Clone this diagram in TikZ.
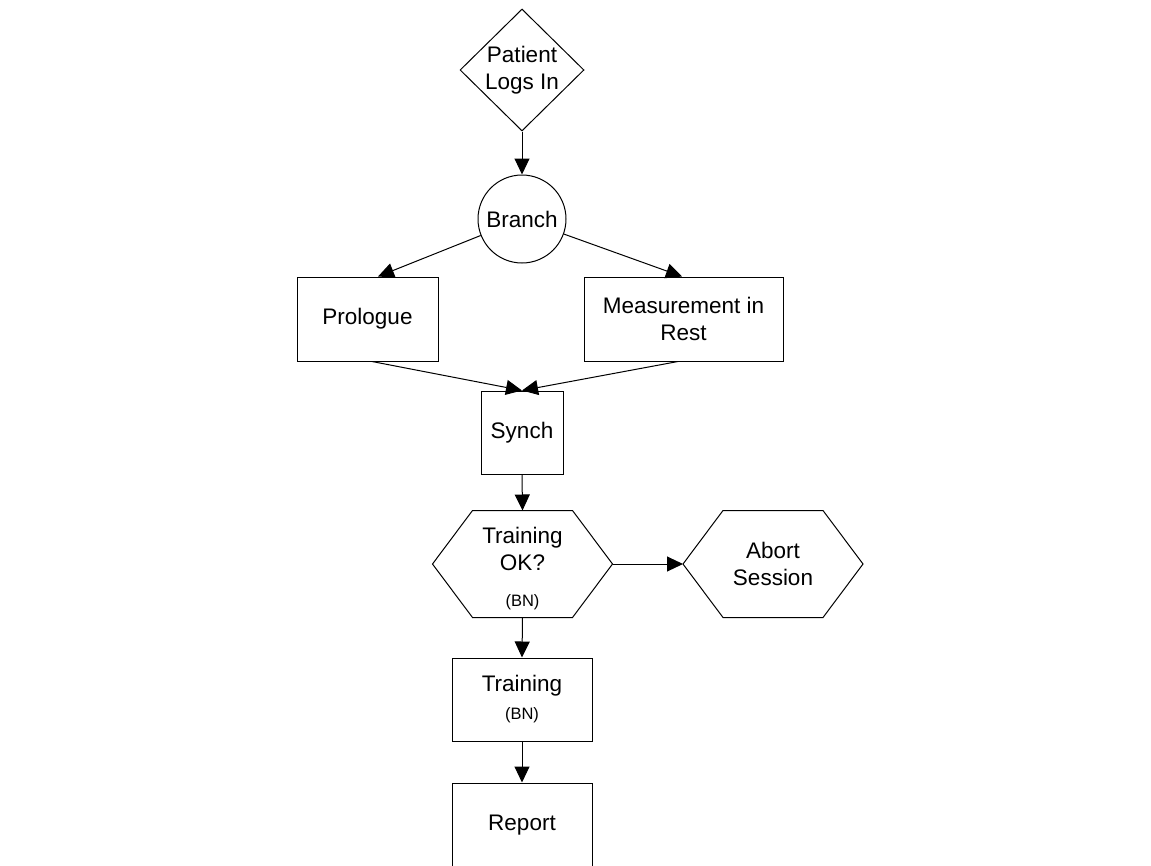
\documentclass[tikz,border=0pt]{standalone}
\usepackage{fontspec}
\setmainfont{Liberation Sans}
\usetikzlibrary{shapes.geometric,arrows.meta}
\newcommand{\bnfont}{\fontsize{16.5}{19}\selectfont}
\tikzset{
  base/.style={draw=black, line width=1pt, inner sep=0pt, align=center,
    font=\fontsize{22.5}{27}\selectfont},
  boxnode/.style={base, rectangle},
  dianode/.style={base, diamond, aspect=1, minimum width=124pt, minimum height=122pt},
  circnode/.style={base, circle, minimum size=88pt},
  hexnode/.style={base, draw=none, rectangle, minimum width=179pt, minimum height=106pt},
  hexline/.style={draw=black, line width=1pt, line join=miter},
  conn/.style={draw=black, line width=1pt, -{Triangle[length=16pt,width=15pt]}}
}
\begin{document}
\begin{tikzpicture}[x=1pt,y=-1pt]
\useasboundingbox (0,0) rectangle (1151,865);

\node[dianode] (login) at (522,70) {Patient\\Logs In};
\node[circnode] (branch) at (522,219) {Branch};
\node[boxnode, minimum width=141pt, minimum height=84pt] (pro) at (367.5,319) {Prologue};
\node[boxnode, minimum width=199pt, minimum height=84pt] (meas) at (683.5,319) {Measurement in\\Rest};
\node[boxnode, minimum width=82pt, minimum height=83pt] (syn) at (522,432.5) {Synch};
\node[hexnode] (ok) at (522.5,564) {\rule{0pt}{25pt}Training\\OK?\\[9pt]{\bnfont (BN)}};
\node[hexnode] (ab) at (773,564) {Abort\\Session};
\node[boxnode, minimum width=140pt, minimum height=83pt] (tr) at (522,699.5) {Training\\[1pt]{\bnfont (BN)}};
\node[boxnode, minimum width=140pt, minimum height=84pt] (rep) at (522,825) {Report};

\foreach \h in {ok,ab}{
  \draw[hexline] (\h.west) -- ([xshift=40pt]\h.north west) -- ([xshift=-40pt]\h.north east)
    -- (\h.east) -- ([xshift=-40pt]\h.south east) -- ([xshift=40pt]\h.south west) -- cycle;
}

\draw[conn] (login.south) -- (branch.north);
\draw[conn] (branch) -- ([xshift=10.5pt]pro.north);
\draw[conn] (branch) -- ([xshift=-1.5pt]meas.north);
\draw[conn] ([xshift=4.5pt]pro.south) -- (syn.north);
\draw[conn] ([xshift=-5.5pt]meas.south) -- (syn.north);
\draw[conn] (syn.south) -- (ok.north);
\draw[conn] (ok.east) -- (ab.west);
\draw[conn] (ok.south) -- (tr.north);
\draw[conn] (tr.south) -- (rep.north);
\end{tikzpicture}
\end{document}
